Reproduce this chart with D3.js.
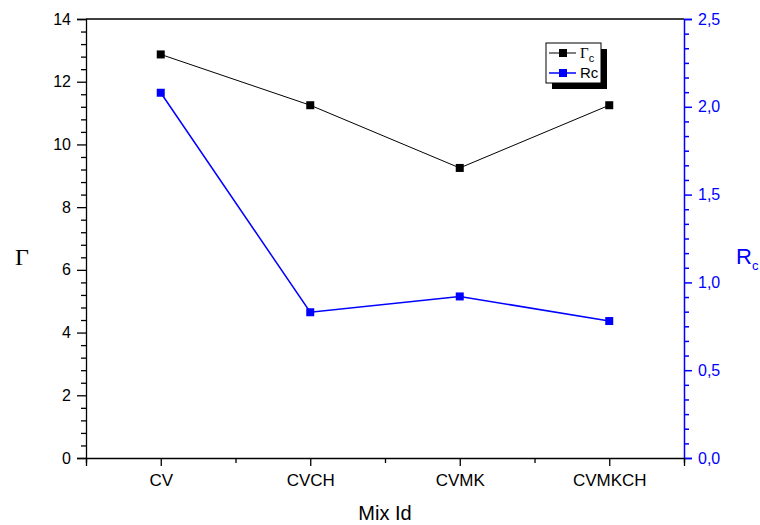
<!DOCTYPE html>
<html>
<head>
<meta charset="utf-8">
<script src="https://cdn.jsdelivr.net/npm/d3@7"></script>
<style>
  html, body { margin: 0; padding: 0; background: #fff; }
  svg { display: block; font-family: Arial, "Liberation Sans", sans-serif; }
</style>
</head>
<body>
<svg id="chart" width="760" height="525"></svg>
<script>
// Mix designs and the two measured series
const mixes = ["CV", "CVCH", "CVMK", "CVMKCH"];
const gammaValues = [12.87, 11.25, 9.25, 11.25];
const rcValues = [2.08, 0.83, 0.92, 0.78];
const gammaTicks = [0, 2, 4, 6, 8, 10, 12, 14];
const rcTicks = [0, 0.5, 1.0, 1.5, 2.0, 2.5];

const BLUE = "#0000ff";
const FONT = "Arial, 'Liberation Sans', sans-serif";
const svg = d3.select("#chart");
const m = { left: 86, right: 684, top: 19, bottom: 458 };

// Categories sit at 1..4 on a continuous axis spanning 0.5..4.5
const x = d3.scaleLinear().domain([0.5, 4.5]).range([m.left, m.right]);
const yL = d3.scaleLinear().domain([0, 14]).range([m.bottom, m.top]);
const yR = d3.scaleLinear().domain([0, 2.5]).range([m.bottom, m.top]);

// top frame line
svg.append("line")
  .attr("x1", m.left).attr("x2", m.right)
  .attr("y1", m.top).attr("y2", m.top)
  .attr("stroke", "#000").attr("stroke-width", 1.3);

// left axis: majors every 2, minors every 0.4
const gMinor = d3.range(0, 14.001, 0.4).filter(v => Math.abs(v / 2 - Math.round(v / 2)) > 1e-6);
const gl = svg.append("g").attr("transform", `translate(${m.left},0)`);
gl.append("g")
  .call(d3.axisLeft(yL).tickValues(gMinor).tickSize(5).tickFormat(""))
  .call(g => g.select(".domain").remove());
gl.append("g")
  .call(d3.axisLeft(yL).tickValues(gammaTicks).tickSize(9).tickPadding(6).tickFormat(d3.format("d")))
  .call(g => g.selectAll("text").attr("font-size", 16).attr("font-family", FONT));
gl.selectAll("line, path").attr("stroke", "#000").attr("stroke-width", 1.3);

// right axis: majors every 0.5, minors every 0.5/6
const rMinor = d3.range(0, 2.5001, 0.5 / 6).filter((v, i) => i % 6 !== 0);
const gr = svg.append("g").attr("transform", `translate(${m.right},0)`);
gr.append("g")
  .call(d3.axisRight(yR).tickValues(rMinor).tickSize(5).tickFormat(""))
  .call(g => g.select(".domain").remove());
gr.append("g")
  .call(d3.axisRight(yR).tickValues(rcTicks).tickSize(8).tickPadding(6)
    .tickFormat(d => d3.format(".1f")(d).replace(".", ",")))
  .call(g => g.selectAll("text").attr("font-size", 16).attr("fill", BLUE).attr("font-family", FONT));
gr.selectAll("line, path").attr("stroke", BLUE).attr("stroke-width", 1.5);

// bottom axis: category majors, half-step minors
const gb = svg.append("g").attr("transform", `translate(0,${m.bottom})`);
gb.append("g")
  .call(d3.axisBottom(x).tickValues([0.5, 1.5, 2.5, 3.5, 4.5]).tickSize(5).tickFormat(""))
  .call(g => g.select(".domain").remove());
gb.append("g")
  .call(d3.axisBottom(x).tickValues(d3.range(1, mixes.length + 1)).tickSize(8).tickPadding(8)
    .tickFormat(d => mixes[d - 1]))
  .call(g => g.selectAll("text").attr("font-size", 17).attr("font-family", FONT));
gb.selectAll("line, path").attr("stroke", "#000").attr("stroke-width", 1.3);

// axis titles
svg.append("text").attr("x", 22).attr("y", 265).attr("text-anchor", "middle")
  .attr("font-family", "'Liberation Serif', 'DejaVu Serif', serif").attr("font-size", 24).text("Γ");
const rcTitle = svg.append("text").attr("x", 736).attr("y", 264).attr("fill", BLUE)
  .attr("font-size", 22);
rcTitle.append("tspan").text("R");
rcTitle.append("tspan").attr("font-size", 13).attr("dy", 6).text("c");
svg.append("text").attr("x", 385).attr("y", 520).attr("text-anchor", "middle")
  .attr("font-size", 20).text("Mix Id");

// series
const series = [
  { values: gammaValues, y: yL, color: "#000", width: 1 },
  { values: rcValues, y: yR, color: BLUE, width: 1.5 }
];
const sq = 8;
series.forEach(s => {
  const pts = s.values.map((v, i) => [x(i + 1), s.y(v)]);
  svg.append("path").attr("d", d3.line()(pts))
    .attr("fill", "none").attr("stroke", s.color).attr("stroke-width", s.width);
  svg.append("g").selectAll("rect").data(pts).join("rect")
    .attr("x", d => d[0] - sq / 2).attr("y", d => d[1] - sq / 2)
    .attr("width", sq).attr("height", sq).attr("fill", s.color);
});

// legend with drop shadow
const lg = svg.append("g").attr("transform", "translate(546,43)");
lg.append("rect").attr("x", 6).attr("y", 6).attr("width", 55).attr("height", 40).attr("fill", "#000");
lg.append("rect").attr("x", 0).attr("y", 0).attr("width", 55).attr("height", 40)
  .attr("fill", "#fff").attr("stroke", "#000").attr("stroke-width", 1);
const entries = [
  { color: "#000", w: 1, y: 10 },
  { color: BLUE, w: 1.5, y: 30 }
];
entries.forEach(e => {
  lg.append("line").attr("x1", 3).attr("x2", 30).attr("y1", e.y).attr("y2", e.y)
    .attr("stroke", e.color).attr("stroke-width", e.w);
  lg.append("rect").attr("x", 13).attr("y", e.y - 4).attr("width", 8).attr("height", 8).attr("fill", e.color);
});
const l1 = lg.append("text").attr("x", 34).attr("y", 15);
l1.append("tspan").attr("font-family", "'Liberation Serif', serif").attr("font-size", 15).text("Γ");
l1.append("tspan").attr("font-size", 11).attr("dy", 4).text("c");
lg.append("text").attr("x", 34).attr("y", 35).attr("font-size", 15).text("Rc");
</script>
</body>
</html>
